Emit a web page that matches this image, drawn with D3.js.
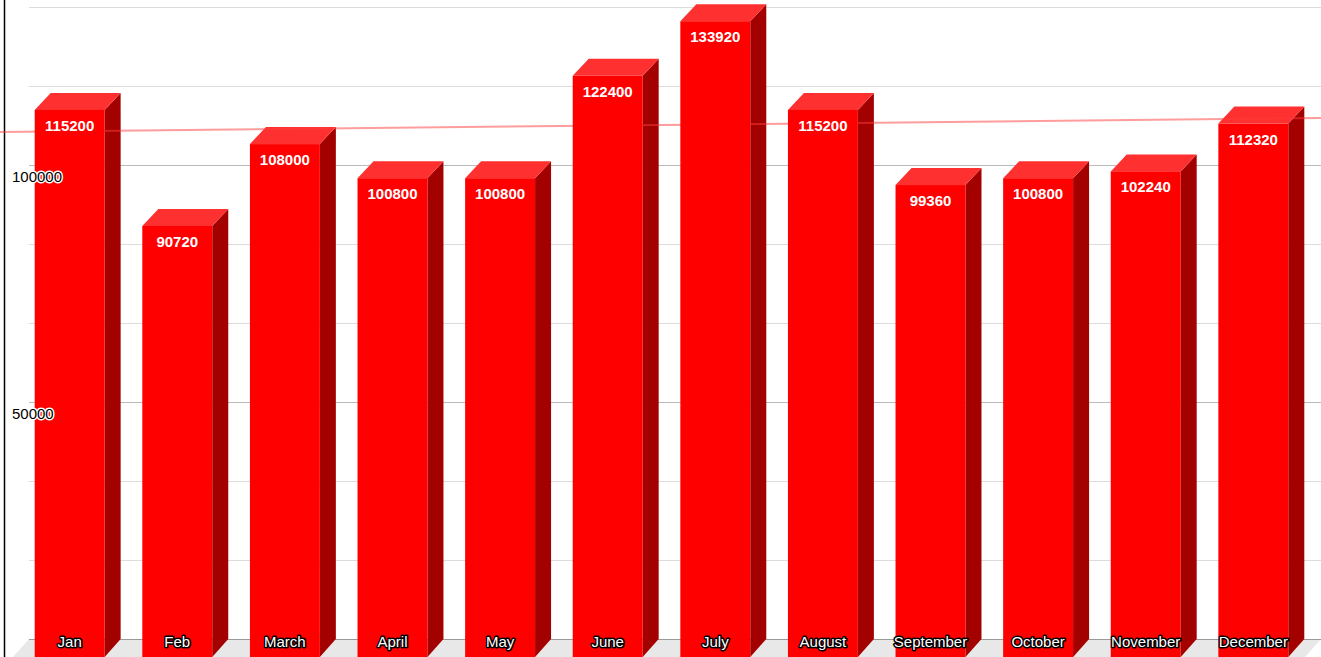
<!DOCTYPE html>
<html>
<head>
<meta charset="utf-8">
<script src="https://cdn.jsdelivr.net/npm/d3@7"></script>
<style>
html,body{margin:0;padding:0;background:#fff;overflow:hidden;}
svg{display:block;font-family:Arial,"Liberation Sans",sans-serif;}
</style>
</head>
<body>
<svg id="chart" width="1321" height="657"></svg>
<script>
const months = ["Jan","Feb","March","April","May","June","July","August","September","October","November","December"];
const sales = [115200,90720,108000,100800,100800,122400,133920,115200,99360,100800,102240,112320];
const gridValues = [0,16666.67,33333.33,50000,66666.67,83333.33,100000,116666.67,133333.33];
const labelValues = [50000,100000];

const W = 1321, H = 657;
const depthX = 16, depthY = 17;
const backLeft = 29, floorY = 639;

const svg = d3.select("#chart");

const x = d3.scaleBand().domain(months).range([backLeft, 1326]).paddingInner(0.35).paddingOuter(0.2017);
const y = d3.scaleLinear().domain([0, 133333.33]).range([floorY, 7]);

// floor
svg.append("polygon")
  .attr("points", [[backLeft,floorY],[W,floorY],[W-depthX,H],[backLeft-depthX,H]].map(p=>p.join(",")).join(" "))
  .attr("fill","#e8e8e8");

// gridlines
svg.append("g").selectAll("line").data(gridValues).join("line")
  .attr("x1", backLeft).attr("x2", W)
  .attr("y1", d=>Math.round(y(d))+0.5).attr("y2", d=>Math.round(y(d))+0.5)
  .attr("stroke", d => d===0 ? "#999" : (labelValues.includes(d) ? "#bbb" : "#dcdcdc"))
  .attr("stroke-width", 1);

// left axis line
svg.append("line").attr("x1",4.5).attr("x2",4.5).attr("y1",0).attr("y2",H)
  .attr("stroke","#000").attr("stroke-width",1.5);

const bw = x.bandwidth();
const bars = svg.append("g");
const data = months.map((m,i)=>({m, v:sales[i]}));

// side faces and tops
data.forEach(d=>{
  const bx = x(d.m), by = y(d.v);
  const fx = bx - depthX, fy = by + depthY;
  // side (right)
  bars.append("polygon")
    .attr("points", [[fx+bw,fy],[bx+bw,by],[bx+bw,floorY],[fx+bw,H]].map(p=>p.join(",")).join(" "))
    .attr("fill","#a30000");
  // top
  bars.append("polygon")
    .attr("points", [[fx,fy],[bx,by],[bx+bw,by],[fx+bw,fy]].map(p=>p.join(",")).join(" "))
    .attr("fill","#ff3030");
});

// trend line (least squares over the data)
const n = sales.length;
const xm = d3.mean(d3.range(n)), ym = d3.mean(sales);
const slope = d3.sum(sales.map((v,i)=>(i-xm)*(v-ym))) / d3.sum(d3.range(n).map(i=>(i-xm)*(i-xm)));
const icpt = ym - slope*xm;
const c0 = x(months[0]) + bw/2, step = x.step();
const trendAt = px => icpt + slope*((px - c0)/step);
svg.append("line")
  .attr("x1",0).attr("y1",y(trendAt(0)))
  .attr("x2",W).attr("y2",y(trendAt(W)))
  .attr("stroke","rgba(255,60,60,0.5)").attr("stroke-width",2);

// front faces
const fronts = svg.append("g");
data.forEach(d=>{
  const bx = x(d.m), by = y(d.v);
  fronts.append("rect")
    .attr("x", bx - depthX).attr("y", by + depthY)
    .attr("width", bw).attr("height", H - (by + depthY))
    .attr("fill","#ff0000");
});

// value labels
svg.append("g").selectAll("text").data(data).join("text")
  .attr("x", d => x(d.m) - depthX + bw/2)
  .attr("y", d => y(d.v) + depthY + 21)
  .attr("text-anchor","middle")
  .attr("font-size",15).attr("font-weight","bold").attr("fill","#fff")
  .text(d => d.v);

// category labels
svg.append("g").selectAll("text").data(data).join("text")
  .attr("x", d => x(d.m) - depthX + bw/2)
  .attr("y", 647)
  .attr("text-anchor","middle")
  .attr("font-size",15).attr("fill","#fff")
  .attr("stroke","#000").attr("stroke-width",3).attr("stroke-linejoin","round")
  .attr("paint-order","stroke")
  .text(d => d.m);

// y labels
svg.append("g").selectAll("text").data(labelValues).join("text")
  .attr("x", 12)
  .attr("y", d => y(d) + 17)
  .attr("font-size",15).attr("fill","#000")
  .attr("stroke","#fff").attr("stroke-width",3).attr("stroke-linejoin","round")
  .attr("paint-order","stroke")
  .text(d => d);
</script>
</body>
</html>
